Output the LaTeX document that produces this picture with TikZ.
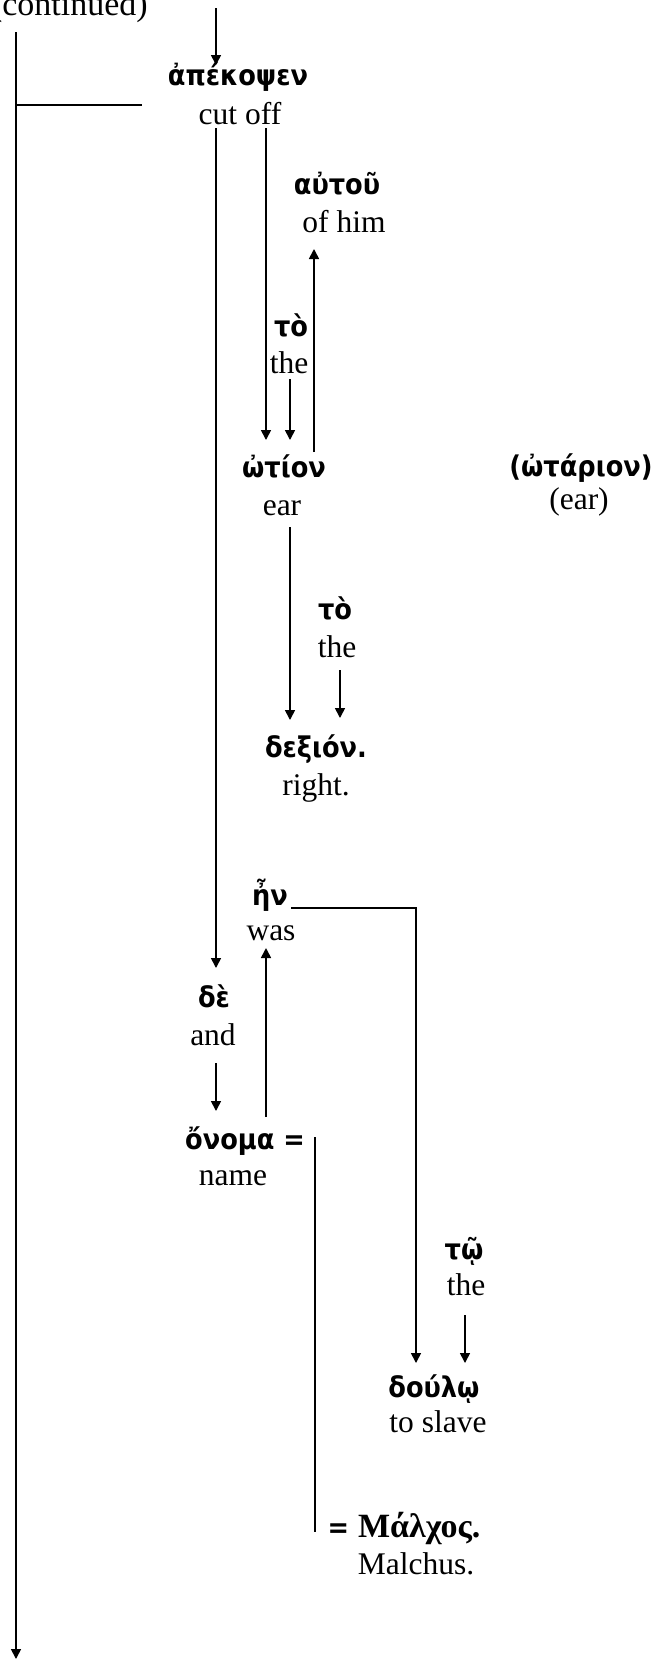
\documentclass[tikz,border=0pt]{standalone}
\usepackage{fontspec}
\setmainfont{Liberation Serif}
\newfontfamily\gkfont{DejaVu Sans Condensed}
\newfontfamily\gkserif{Liberation Serif}
\usetikzlibrary{arrows.meta,calc}
\tikzset{
  en/.style={anchor=base, inner sep=0pt, font=\fontsize{31.5}{36}\selectfont},
  gr/.style={anchor=base, inner sep=0pt, font=\fontsize{28.5}{32}\gkfont\bfseries},
  conn/.style={line width=1.7pt},
  arr/.style={conn, -{Triangle[length=10pt,width=10pt]}}
}
\begin{document}
\begin{tikzpicture}[x=1pt,y=-1pt]
\fill[white] (0,0) rectangle (655,1660);
\useasboundingbox (0,0) rectangle (655,1660);
% x positions of vertical connectors
\coordinate (xA) at (216,0);
\coordinate (xB) at (266,0);
\coordinate (xC) at (314,0);
\coordinate (xD) at (290,0);
\coordinate (xE) at (340,0);
\coordinate (xF) at (416,0);
\coordinate (xG) at (465,0);
\coordinate (xH) at (315,0);
\coordinate (top) at (216,8);
\coordinate (trunkTop) at (16,32);
\coordinate (trunkEnd) at (16,1659);
\coordinate (hend) at (142,0);
% texts
\node[en, anchor=base east, font=\fontsize{34}{38}\selectfont] (cont) at (148,15) {(continued)};
\node[gr] (apek) at (238,85) {ἀπέκοψεν};
\node[en] (cutoff) at (240,124) {cut off};
\node[gr] (autou) at (337,194) {αὐτοῦ};
\node[en] (ofhim) at (344,232) {of him};
\node[gr] (to1) at (291,336) {τὸ};
\node[en] (the1) at (289,373) {the};
\node[gr] (otion) at (284,477) {ὠτίον};
\node[en] (ear) at (282,515) {ear};
\node[gr] (otarion) at (581,476) {(ὠτάριον)};
\node[en] (ear2) at (579,509) {(ear)};
\node[gr] (to2) at (335,619) {τὸ};
\node[en] (the2) at (337,657) {the};
\node[gr] (dexion) at (316,757) {δεξιόν.};
\node[en] (right) at (316,795) {right.};
\node[gr] (en) at (270,905) {ἦν};
\node[en] (was) at (271,940) {was};
\node[gr] (de) at (214,1007) {δὲ};
\node[en] (and) at (213,1045) {and};
\node[gr] (onoma) at (245,1149) {ὄνομα =};
\node[en] (name) at (233,1185) {name};
\node[gr] (tw) at (464,1259) {τῷ};
\node[en] (the3) at (466,1295) {the};
\node[gr] (doulo) at (434,1397) {δούλῳ};
\node[en] (slave) at (438,1432) {to slave};
\node[gr] (malchos) at (404,1537) {= {\gkserif\fontsize{34}{38}\selectfont Μάλχος.}};
\node[en] (malchus) at (416,1574) {Malchus.};
% connectors
\draw[arr] (top) -- ($(apek.base -| xA)+(0,-20)$);
\draw[arr] (trunkTop) -- (trunkEnd);
\draw[conn] ($(cutoff.base -| trunkTop)+(0,-19)$) -- ($(cutoff.base -| hend)+(0,-19)$);
\draw[arr] ($(cutoff.base -| xA)+(0,4)$) -- ($(de.base -| xA)+(0,-39)$);
\draw[arr] ($(cutoff.base -| xB)+(0,4)$) -- ($(otion.base -| xB)+(0,-37)$);
\draw[arr] ($(otion.base -| xC)+(0,-25)$) -- ($(ofhim.base -| xC)+(0,17)$);
\draw[arr] ($(the1.base -| xD)+(0,6)$) -- ($(otion.base -| xD)+(0,-37)$);
\draw[arr] ($(ear.base -| xD)+(0,12)$) -- ($(dexion.base -| xD)+(0,-37)$);
\draw[arr] ($(the2.base -| xE)+(0,13)$) -- ($(dexion.base -| xE)+(0,-39)$);
\draw[arr] ($(en.base east)+(3,3)$) -| ($(doulo.base -| xF)+(0,-34)$);
\draw[arr] ($(and.base -| xA)+(0,18)$) -- ($(onoma.base -| xA)+(0,-38)$);
\draw[arr] ($(onoma.base -| xB)+(0,-32)$) -- ($(was.base -| xB)+(0,8)$);
\draw[arr] ($(the3.base -| xG)+(0,20)$) -- ($(doulo.base -| xG)+(0,-34)$);
\draw[conn] ($(onoma.base -| xH)+(0,-12)$) -- ($(malchos.base -| xH)+(0,-5)$);
\end{tikzpicture}
\end{document}
